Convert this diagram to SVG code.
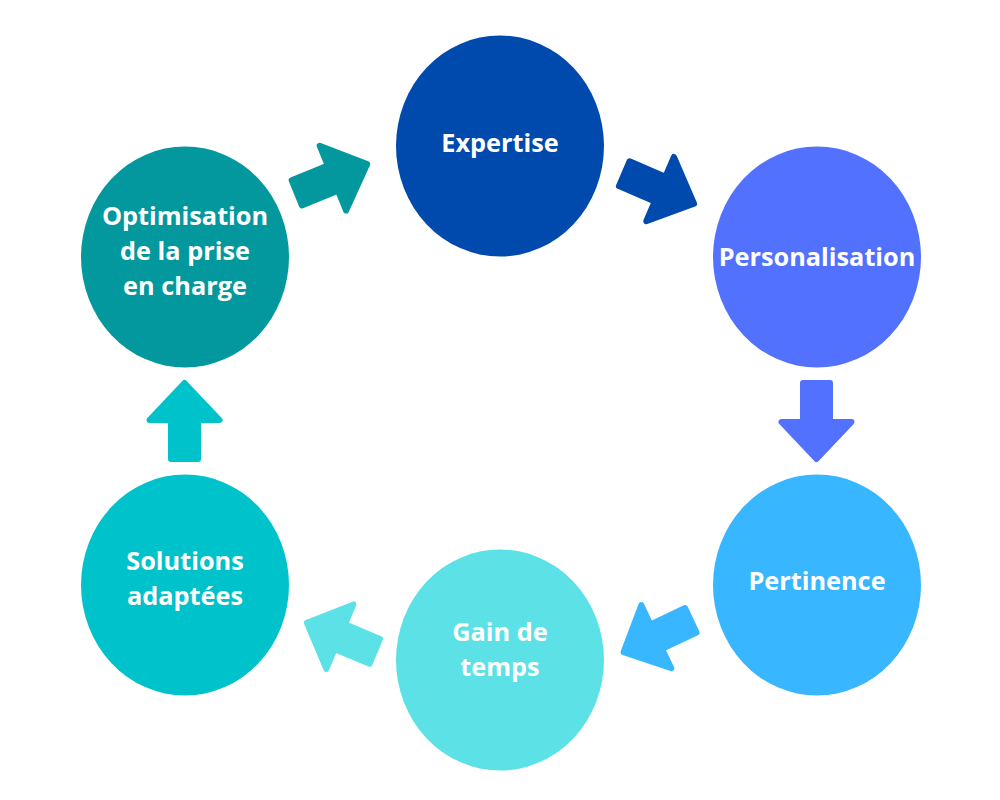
<svg xmlns="http://www.w3.org/2000/svg" width="1000" height="800" viewBox="0 0 1000 800">
<defs>
<style>
.lbl{font-family:"Open Sans","Liberation Sans",sans-serif;font-weight:700;font-size:25.3px;fill:#ffffff;text-anchor:middle}
.arr{stroke-width:6;stroke-linejoin:round}
</style>
<polygon id="arrow" points="3,-13.5 42,-13.5 42,-35 79,0 42,35 42,13.5 3,13.5"/>
</defs>
<rect width="1000" height="800" fill="#ffffff"/>
<g id="connectors">
<use href="#arrow" class="arr" fill="#03989e" stroke="#03989e" transform="translate(294,194) rotate(-22.2)"/>
<use href="#arrow" class="arr" fill="#004aad" stroke="#004aad" transform="translate(621.5,172.5) rotate(23.3)"/>
<use href="#arrow" class="arr" fill="#5271ff" stroke="#5271ff" transform="translate(816.5,380) rotate(90)"/>
<use href="#arrow" class="arr" fill="#38b6ff" stroke="#38b6ff" transform="translate(693.5,619) rotate(154.6) scale(0.98,1)"/>
<use href="#arrow" class="arr" fill="#5ce1e6" stroke="#5ce1e6" transform="translate(377.5,652.5) rotate(202.8) scale(0.97,1)"/>
<use href="#arrow" class="arr" fill="#00c2cb" stroke="#00c2cb" transform="translate(184.5,462) rotate(-90)"/>
</g>
<g id="expertise">
<ellipse cx="500" cy="146" rx="104" ry="110.5" fill="#004aad"/>
<text class="lbl" x="500" y="152">Expertise</text>
</g>
<g id="personalisation">
<ellipse cx="817" cy="257" rx="104" ry="110.5" fill="#5271ff"/>
<text class="lbl" x="817" y="266">Personalisation</text>
</g>
<g id="pertinence">
<ellipse cx="817" cy="585" rx="104" ry="110.5" fill="#38b6ff"/>
<text class="lbl" x="817" y="590">Pertinence</text>
</g>
<g id="gain-de-temps">
<ellipse cx="500" cy="660" rx="104" ry="110.5" fill="#5ce1e6"/>
<text class="lbl" x="500" y="641">Gain de</text>
<text class="lbl" x="500" y="676">temps</text>
</g>
<g id="solutions-adaptees">
<ellipse cx="185" cy="585" rx="104" ry="110.5" fill="#00c2cb"/>
<text class="lbl" x="185" y="570">Solutions</text>
<text class="lbl" x="185" y="605">adaptées</text>
</g>
<g id="optimisation">
<ellipse cx="185" cy="257" rx="104" ry="110.5" fill="#03989e"/>
<text class="lbl" x="185" y="225">Optimisation</text>
<text class="lbl" x="185" y="260">de la prise</text>
<text class="lbl" x="185" y="295">en charge</text>
</g>
</svg>
